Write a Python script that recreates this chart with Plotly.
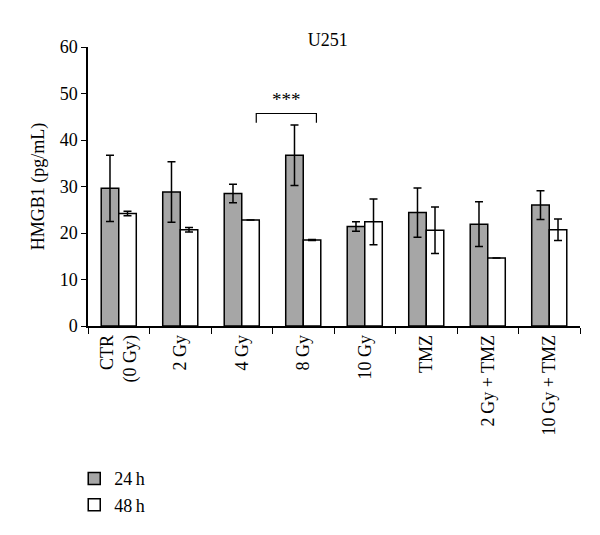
import plotly.graph_objects as go

# values
groups = ["CTR<br>(0 Gy)", "2 Gy", "4 Gy", "8 Gy", "10 Gy", "TMZ",
          "2\u2009Gy + TMZ", "10\u2009Gy + TMZ"]
h24 = [29.6, 28.8, 28.5, 36.7, 21.4, 24.4, 21.9, 26.0]
h24_err = [7.1, 6.5, 2.0, 6.5, 1.0, 5.3, 4.8, 3.1]
h48 = [24.2, 20.7, 22.8, 18.5, 22.4, 20.6, 14.6, 20.7]
h48_err = [0.5, 0.5, 0.0, 0.1, 4.9, 5.0, 0.0, 2.3]

serif = "Liberation Serif"

fig = go.Figure()
fig.add_trace(go.Bar(
    x=groups, y=h24, name="24\u2009h",
    marker=dict(color="#a6a6a6", line=dict(color="black", width=1.5)),
    error_y=dict(type="data", array=h24_err, color="black", thickness=1.5, width=4),
))
fig.add_trace(go.Bar(
    x=groups, y=h48, name="48\u2009h",
    marker=dict(color="white", line=dict(color="black", width=1.5)),
    error_y=dict(type="data", array=h48_err, color="black", thickness=1.5, width=4),
))

# significance bracket between 4 Gy and 8 Gy
fig.add_shape(type="path", xref="x", yref="y",
              path="M 2.236 43.7 L 2.236 45.7 L 3.214 45.7 L 3.214 43.7",
              line=dict(color="black", width=1.2))
fig.add_annotation(x=2.725, y=46.0, text="***", showarrow=False, yanchor="bottom",
                   font=dict(family=serif, size=19, color="black"))

# page has an 8px body margin, so the figure is 8px smaller than the window
fig.update_layout(
    width=592, height=527,
    margin=dict(l=80, r=20, t=39, b=209),
    paper_bgcolor="white", plot_bgcolor="white",
    barmode="group", bargap=0.43, bargroupgap=0,
    font=dict(family=serif, size=18, color="black"),
    title=dict(text="U251", x=0.54, xanchor="center", y=0.939, yanchor="middle",
               font=dict(family=serif, size=18, color="black")),
    legend=dict(x=-0.028, y=-0.481, xanchor="left", yanchor="top",
                font=dict(family=serif, size=18), tracegroupgap=2),
    showlegend=True,
)
fig.update_xaxes(showline=True, linecolor="black", linewidth=1.5, automargin=False,
                 ticks="outside", tickson="boundaries", ticklen=6, tickcolor="black",
                 tickangle=-90, tickfont=dict(family=serif, size=18))
fig.update_yaxes(range=[0, 60], dtick=10, showgrid=False, zeroline=False, automargin=False,
                 showline=True, linecolor="black", linewidth=1.5,
                 ticks="outside", ticklen=5, tickcolor="black",
                 tickfont=dict(family=serif, size=18),
                 title=dict(text="HMGB1 (pg/mL)", font=dict(family=serif, size=18), standoff=10))

fig.write_html("out.html")
